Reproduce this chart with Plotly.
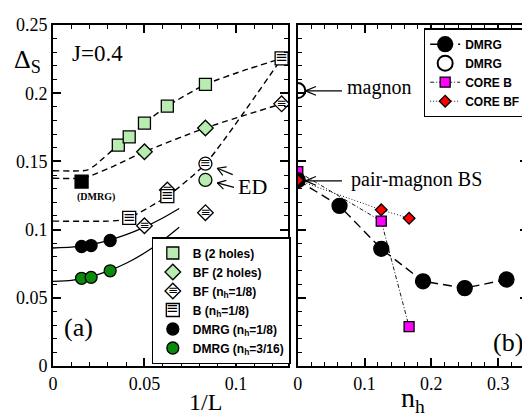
import plotly.graph_objects as go

# ---------------- data: left panel (gap vs 1/L) ----------------
b2_x = [1/28, 1/24, 1/20, 1/16, 1/12]
b2_y = [0.162, 0.168, 0.178, 0.1905, 0.2064]
bf2_x = [1/20, 1/12]
bf2_y = [0.1571, 0.1745]
bf8_x = [1/20, 1/16, 1/12, 1/8]
bf8_y = [0.1028, 0.1290, 0.1124, 0.1922]
b8_x = [1/24, 1/16, 1/8]
b8_y = [0.1086, 0.1245, 0.2255]
dm8_x = [1/64, 1/48, 1/32]
dm8_y = [0.0876, 0.0883, 0.0920]
dm316_x = [1/64, 1/48, 1/32]
dm316_y = [0.0643, 0.0650, 0.0698]
ed_str_x, ed_str_y = [1/12], [0.1483]
ed_grn_x, ed_grn_y = [1/12], [0.1364]
dmsq_x, dmsq_y = [1/64], [0.1352]

# fitted curves
fit_b2_x = [0, 0.016, 0.019, 0.023, 1/28, 1/24, 1/20, 1/16, 1/12, 0.104, 0.125]
fit_b2_y = [0.1431, 0.1431, 0.1438, 0.1472, 0.162, 0.168, 0.178, 0.1905, 0.2064, 0.2165, 0.2255]
fit_bf2_x = [0, 0.015, 0.02, 0.033, 0.05, 1/12, 0.125]
fit_bf2_y = [0.1376, 0.1376, 0.1392, 0.1464, 0.1571, 0.1745, 0.1922]
fit_b8_x = [0, 0.03, 0.036, 1/24, 1/16, 1/12, 0.125]
fit_b8_y = [0.1062, 0.1062, 0.1068, 0.1086, 0.1245, 0.1483, 0.2255]
fit_dm8_x = [0, 0.01, 0.02, 0.03, 0.04, 0.05, 0.06, 0.069]
fit_dm8_y = [0.0865, 0.0871, 0.0889, 0.0920, 0.0963, 0.1018, 0.1085, 0.1155]
fit_dm316_x = [0, 0.01, 0.02, 0.03, 0.04, 0.05, 0.06, 0.069]
fit_dm316_y = [0.0620, 0.0628, 0.0653, 0.0695, 0.0753, 0.0828, 0.0920, 0.1017]

# ---------------- data: right panel (gap vs n_h) ----------------
nh_dmrg = [0, 1/16, 1/8, 3/16, 1/4, 5/16]
gap_dmrg = [0.1362, 0.1174, 0.0859, 0.0621, 0.0571, 0.0634]
nh_open, gap_open = [0], [0.2019]
nh_coreb = [0, 1/8, 1/6]
gap_coreb = [0.1425, 0.1062, 0.0288]
nh_corebf = [0, 1/8, 1/6]
gap_corebf = [0.1362, 0.1145, 0.1083]

LG = '#b8ecb0'
SERIF = 'Liberation Serif'
SANS = 'Liberation Sans'

fig = go.Figure()

def curve(x, y, dash, width=1.4, xa='x', ya='y', color='black'):
    fig.add_trace(go.Scatter(x=x, y=y, mode='lines', xaxis=xa, yaxis=ya,
                             line=dict(color=color, width=width, dash=dash, shape='spline', smoothing=0.6),
                             showlegend=False, hoverinfo='skip'))

def stripes(x, y, size, xa='x', ya='y'):
    fig.add_trace(go.Scatter(x=x, y=y, mode='text', text=['≡'] * len(x), xaxis=xa, yaxis=ya,
                             textposition='middle center',
                             textfont=dict(family='DejaVu Sans', size=size, color='black'),
                             showlegend=False, hoverinfo='skip'))

# left-panel curves
curve(fit_b2_x, fit_b2_y, '6px,4px')
curve(fit_bf2_x, fit_bf2_y, '6px,4px')
curve(fit_b8_x, fit_b8_y, '6px,4px')
curve(fit_dm8_x, fit_dm8_y, 'solid', 1.3)
curve(fit_dm316_x, fit_dm316_y, 'solid', 1.3)

mline = dict(color='black', width=1.3)
# left markers
fig.add_trace(go.Scatter(x=b2_x, y=b2_y, mode='markers', name='B (2 holes)', legend='legend',
                         marker=dict(symbol='square', size=12, color=LG, line=mline)))
fig.add_trace(go.Scatter(x=bf2_x, y=bf2_y, mode='markers', name='BF (2 holes)', legend='legend',
                         marker=dict(symbol='diamond', size=12, color=LG, line=mline)))
fig.add_trace(go.Scatter(x=bf8_x, y=bf8_y, mode='markers', name='BF (n<sub>h</sub>=1/8)', legend='legend',
                         marker=dict(symbol='diamond', size=12, color='white', line=mline)))
stripes(bf8_x, bf8_y, 12)
fig.add_trace(go.Scatter(x=b8_x, y=b8_y, mode='markers', name='B (n<sub>h</sub>=1/8)', legend='legend',
                         marker=dict(symbol='square', size=13, color='white', line=mline)))
stripes(b8_x, b8_y, 15)
fig.add_trace(go.Scatter(x=ed_str_x, y=ed_str_y, mode='markers', showlegend=False,
                         marker=dict(symbol='circle', size=13, color='white', line=mline)))
stripes(ed_str_x, ed_str_y, 13)
fig.add_trace(go.Scatter(x=ed_grn_x, y=ed_grn_y, mode='markers', showlegend=False,
                         marker=dict(symbol='circle', size=13, color=LG, line=mline)))
fig.add_trace(go.Scatter(x=dmsq_x, y=dmsq_y, mode='markers', showlegend=False,
                         marker=dict(symbol='square', size=13, color='black', line=mline)))
fig.add_trace(go.Scatter(x=dm8_x, y=dm8_y, mode='markers', name='DMRG (n<sub>h</sub>=1/8)', legend='legend',
                         marker=dict(symbol='circle', size=12, color='black', line=mline)))
fig.add_trace(go.Scatter(x=dm316_x, y=dm316_y, mode='markers', name='DMRG (n<sub>h</sub>=3/16)', legend='legend',
                         marker=dict(symbol='circle', size=12, color='#0a8a0a', line=mline)))

# right panel
fig.add_trace(go.Scatter(x=nh_coreb, y=gap_coreb, mode='lines+markers', name='CORE B', legend='legend2',
                         xaxis='x2', yaxis='y2', legendrank=3,
                         line=dict(color='black', width=0.9, dash='4px,2px,1px,2px'),
                         marker=dict(symbol='square', size=10, color='#ff00ff', line=mline)))
fig.add_trace(go.Scatter(x=nh_dmrg, y=gap_dmrg, mode='lines+markers', name='DMRG', legend='legend2',
                         xaxis='x2', yaxis='y2', legendrank=1,
                         line=dict(color='black', width=1.4, dash='9px,5px'),
                         marker=dict(symbol='circle', size=15, color='black', line=mline)))
fig.add_trace(go.Scatter(x=nh_corebf, y=gap_corebf, mode='lines+markers', name='CORE BF', legend='legend2',
                         xaxis='x2', yaxis='y2', legendrank=4,
                         line=dict(color='black', width=0.9, dash='1px,2px'),
                         marker=dict(symbol='diamond', size=9, color='#ff0000', line=mline)))
fig.add_trace(go.Scatter(x=nh_open, y=gap_open, mode='markers', name='DMRG', legend='legend2',
                         xaxis='x2', yaxis='y2', legendrank=2,
                         marker=dict(symbol='circle', size=15, color='white', line=dict(color='black', width=2))))

tickfont = dict(family=SERIF, size=18, color='black')
common = dict(showline=True, linecolor='black', linewidth=2, mirror='ticks', ticks='inside',
              ticklen=8, tickwidth=1.5, tickcolor='black', showgrid=False, zeroline=False,
              tickfont=tickfont)

def minor(d):
    return dict(dtick=d, tick0=0, ticks='inside', ticklen=4, tickwidth=1.2, tickcolor='black', showgrid=False)

LEG_LEFT_X = 0.2074   # left edge of left legend (paper)
LEG_LEFT_Y = 0.3777   # top of left legend (paper)

fig.update_layout(
    width=530, height=420, margin=dict(l=44.3, r=9.7, t=7.7, b=62.3),
    plot_bgcolor='white', paper_bgcolor='white',
    xaxis=dict(domain=[0, 0.4952], range=[0, 0.1286], dtick=0.05, tick0=0, minor=minor(0.01), **common),
    yaxis=dict(range=[0, 0.25], dtick=0.05, tick0=0, minor=minor(0.01), anchor='x', **common),
    xaxis2=dict(domain=[0.5153, 1], range=[0, 0.3447], dtick=0.1, tick0=0, minor=minor(0.02),
                anchor='y2', **common),
    yaxis2=dict(range=[0, 0.25], dtick=0.05, tick0=0, minor=minor(0.01), anchor='x2',
                showticklabels=False, **common),
    legend=dict(x=LEG_LEFT_X, y=LEG_LEFT_Y, xanchor='left', yanchor='top', bgcolor='white',
                bordercolor='black', borderwidth=1.3, tracegroupgap=0,
                font=dict(family=SANS, size=12, color='black', weight='bold')),
    legend2=dict(x=0.9955, y=0.99, xanchor='right', yanchor='top', bgcolor='white',
                 bordercolor='black', borderwidth=1.3,
                 font=dict(family=SANS, size=12, color='black', weight='bold')),
)

ann = []
def text(x, y, t, size, xref='x', yref='y', family=SERIF):
    ann.append(dict(x=x, y=y, xref=xref, yref=yref, text=t, showarrow=False,
                    xanchor='center', yanchor='middle',
                    font=dict(family=family, size=size, color='black')))

text(-0.053, 0.893, 'Δ<sub>S</sub>', 26, 'paper', 'paper')
text(0.0243, 0.229, 'J=0.4', 23)
text(0.0233, 0.1236, '<b>(DMRG)</b>', 10)
text(0.0142, 0.0284, '(a)', 26)
text(0.109, 0.1314, 'ED', 22)
text(0.315, 0.0171, '(b)', 26, 'x2', 'y2')
text(0.121, 0.204, 'magnon', 20, 'x2', 'y2')
text(0.178, 0.137, 'pair-magnon BS', 20, 'x2', 'y2')
text(0.321, -0.107, '1/L', 24, 'paper', 'paper')
text(0.758, -0.098, 'n<sub>h</sub>', 28, 'paper', 'paper')

# stripes on the hatched legend swatches (3rd and 4th legend rows)
sym_x = LEG_LEFT_X + (1.3 + 20) / 476
row0 = LEG_LEFT_Y - (1.3 + 5 + 9.5) / 350
text(sym_x, row0 - 2 * 19 / 350, '≡', 12, 'paper', 'paper', 'DejaVu Sans')
text(sym_x, row0 - 3 * 19 / 350, '≡', 15, 'paper', 'paper', 'DejaVu Sans')

def arrow(x, y, xref, yref, shaft, arms):
    for ax, ay in [shaft] + arms:
        ann.append(dict(x=x, y=y, xref=xref, yref=yref, text='', showarrow=True, arrowhead=0,
                        ax=ax, ay=ay, arrowwidth=1.2, arrowcolor='black', standoff=0, startstandoff=0))

arrow(0.0115, 0.2017, 'x2', 'y2', (38, 0), [(12, -5), (12, 5)])
arrow(0.0115, 0.1357, 'x2', 'y2', (38, 0), [(12, -5), (12, 5)])
arrow(0.0898, 0.1450, 'x', 'y', (17, 7), [(6.7, 8.7), (10.9, -1.5)])
arrow(0.0898, 0.1343, 'x', 'y', (18.3, 5), [(7.7, 7.8), (10.6, -2.8)])

fig.update_layout(annotations=ann)
fig.write_html('out.html')
